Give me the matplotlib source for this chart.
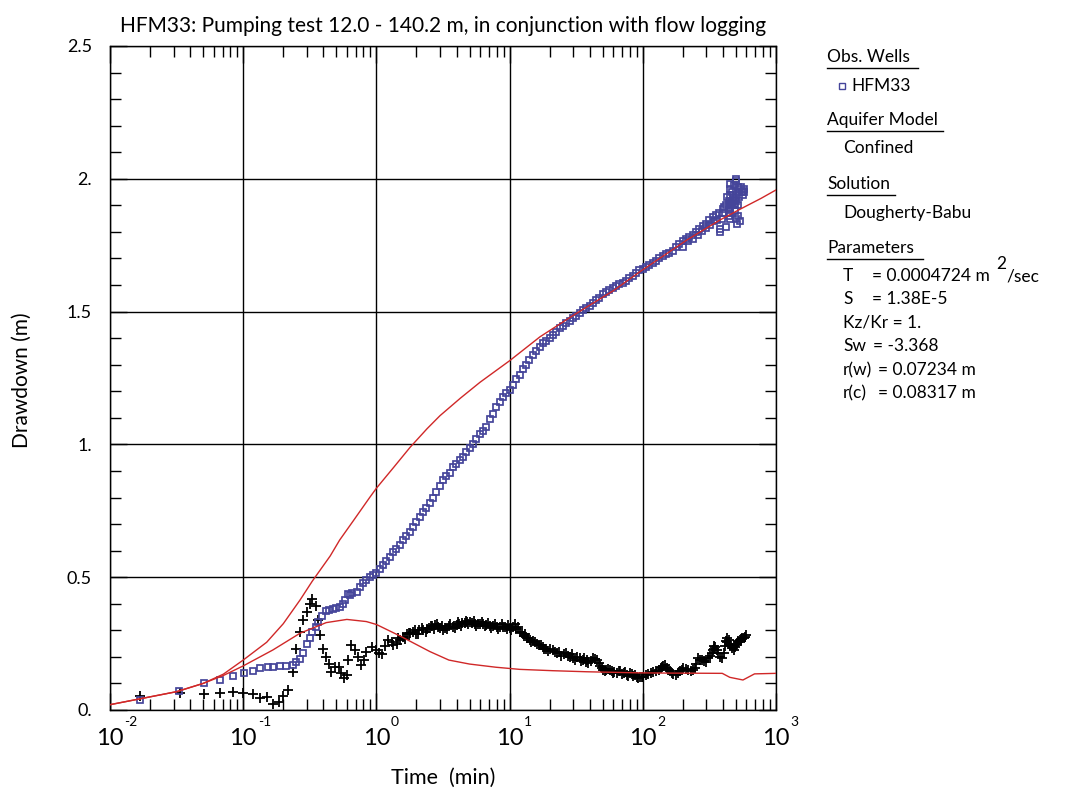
import matplotlib
matplotlib.use('Agg')
import matplotlib.pyplot as plt
from matplotlib.ticker import LogLocator, MultipleLocator, FixedLocator, NullFormatter
from matplotlib.lines import Line2D
import numpy as np

plt.rcParams['font.family'] = ['Lato', 'DejaVu Sans']

# ---------------- data ----------------
# Observed drawdown, HFM33 (time in min, drawdown in m)
well_t = [0.0168, 0.033, 0.051, 0.067, 0.084, 0.101, 0.118, 0.134, 0.153, 0.167,
          0.189, 0.21, 0.236, 0.25, 0.267, 0.28, 0.30, 0.318, 0.33, 0.35,
          0.366, 0.39, 0.42, 0.44, 0.47, 0.50, 0.53, 0.56, 0.58, 0.61,
          0.63, 0.66, 0.71, 0.75, 0.79, 0.84, 0.89, 0.94, 1.0, 1.06,
          1.12, 1.19, 1.26, 1.33, 1.41, 1.5, 1.59, 1.68, 1.78, 1.89,
          2.0, 2.12, 2.24, 2.37, 2.51, 2.66, 2.82, 2.99, 3.16, 3.35,
          3.55, 3.76, 3.98, 4.22, 4.47, 4.73, 5.01, 5.31, 5.62, 5.96,
          6.31, 6.68, 7.08, 7.5, 7.94, 8.41, 8.91, 9.44, 10.0, 10.6,
          11.2, 11.9, 12.6, 13.3, 14.1, 15.0, 15.8, 16.8, 17.8, 18.8,
          20.0, 21.1, 22.4, 23.7, 25.1, 26.6, 28.2, 29.9, 31.6, 33.5,
          35.5, 37.6, 39.8, 42.2, 44.7, 47.3, 50.1, 53.1, 56.2, 59.6,
          63.1, 66.8, 70.8, 75.0, 79.4, 84.1, 89.1, 94.4, 100, 106,
          112, 119, 126, 133, 141, 150, 158, 168, 178, 188,
          200, 211, 224, 237, 251, 266, 282, 299, 316, 335,
          355, 376, 398, 422, 447, 473, 501, 531, 562, 580,
          200, 220, 240, 260, 280, 300, 320, 340, 360, 380,
          390, 400, 410, 420, 430, 440, 450, 450, 450, 450,
          450, 450, 455, 460, 470, 480, 490, 500, 500, 500,
          510, 520, 520, 530, 540, 550, 560, 570, 580, 380,
          490, 495, 505, 515, 525, 445, 455, 465, 475, 485]
well_s = [0.038, 0.073, 0.100, 0.113, 0.128, 0.140, 0.148, 0.159, 0.163, 0.163,
          0.167, 0.167, 0.170, 0.182, 0.192, 0.214, 0.247, 0.270, 0.294, 0.314,
          0.333, 0.354, 0.374, 0.378, 0.380, 0.384, 0.389, 0.400, 0.414, 0.435,
          0.433, 0.440, 0.445, 0.462, 0.477, 0.490, 0.500, 0.508, 0.515, 0.530,
          0.545, 0.560, 0.577, 0.595, 0.608, 0.622, 0.640, 0.655, 0.672, 0.690,
          0.708, 0.728, 0.745, 0.762, 0.780, 0.797, 0.820, 0.845, 0.866, 0.882,
          0.893, 0.915, 0.928, 0.940, 0.954, 0.970, 0.985, 1.000, 1.020, 1.038,
          1.052, 1.067, 1.095, 1.115, 1.140, 1.160, 1.178, 1.192, 1.205, 1.225,
          1.245, 1.262, 1.283, 1.300, 1.318, 1.335, 1.350, 1.366, 1.380, 1.390,
          1.400, 1.412, 1.425, 1.437, 1.447, 1.456, 1.466, 1.475, 1.484, 1.495,
          1.506, 1.514, 1.522, 1.532, 1.542, 1.553, 1.565, 1.575, 1.583, 1.590,
          1.597, 1.603, 1.608, 1.617, 1.625, 1.635, 1.645, 1.655, 1.662, 1.668,
          1.675, 1.683, 1.692, 1.700, 1.708, 1.715, 1.722, 1.730, 1.742, 1.755,
          1.765, 1.775, 1.780, 1.790, 1.800, 1.812, 1.822, 1.830, 1.843, 1.855,
          1.862, 1.870, 1.885, 1.900, 1.915, 1.930, 1.940, 1.950, 1.955, 1.960,
          1.745, 1.765, 1.775, 1.790, 1.805, 1.815, 1.825, 1.840, 1.845, 1.800,
          1.850, 1.870, 1.895, 1.820, 1.930, 1.860, 1.850, 1.870, 1.890, 1.910,
          1.940, 1.960, 1.980, 1.900, 1.950, 1.975, 1.880, 1.990, 2.000, 1.850,
          1.830, 1.860, 1.970, 1.960, 1.840, 1.970, 1.950, 1.940, 1.950, 1.810,
          1.905, 1.925, 1.915, 1.900, 1.930, 1.885, 1.900, 1.910, 1.920, 1.905]

# Observed derivative (black crosses)
deriv_t = [0.0168, 0.0335, 0.051, 0.067, 0.084, 0.10, 0.118, 0.134, 0.15, 0.166,
           0.186, 0.20, 0.218, 0.235, 0.25, 0.267, 0.28, 0.30, 0.32, 0.33,
           0.35, 0.366, 0.38, 0.40, 0.42, 0.44, 0.46, 0.49, 0.52, 0.54,
           0.57, 0.60, 0.61, 0.65, 0.69, 0.73, 0.76, 0.81, 0.84, 0.92,
           1.0, 1.05, 1.11, 1.17, 1.23, 1.33, 1.42, 1.5, 1.59, 1.7,
           1.8, 1.89, 2.0, 2.1, 2.25, 2.4, 2.5, 2.62, 2.75, 2.9,
           3.0, 3.17, 3.3, 3.5, 3.78, 4.0, 4.2, 4.4, 4.6, 4.8,
           5.0, 5.25, 5.5, 5.75, 6.0, 6.35, 6.7, 7.1, 7.5, 8.0,
           8.45, 8.9, 9.5, 10.0, 10.6, 11.2, 11.9, 12.8, 13.5, 14.2,
           15.0, 15.5, 16.5, 17.9, 18.7, 19.5, 21.0, 22.6, 24.5, 26.5,
           28.4, 30.0, 31.0, 33.5, 35.8, 37.5, 39.0, 42.0, 45.0, 48.0,
           50.6, 53.0, 55.0, 58.6, 61.0, 63.7, 68.0, 72.0, 76.0, 80.0,
           85.0, 90.0, 95.0, 101, 110, 120, 132, 140, 147, 155,
           165, 176, 190, 202, 220, 238, 250, 260, 280, 300,
           320, 335, 350, 370, 395, 415, 430, 455, 480, 500,
           520, 535, 560, 580, 600, 345, 425, 440, 510, 545,
           1.3, 1.45, 1.65, 1.75, 1.95, 2.05, 2.2, 2.35, 2.55, 2.7,
           2.85, 3.1, 3.4, 3.6, 3.9, 4.1, 4.3, 4.7, 4.9, 5.4,
           5.6, 6.2, 6.5, 6.9, 7.3, 7.8, 8.2, 8.7, 9.2, 9.8,
           10.3, 10.9, 11.5, 12.3, 13.0, 13.8, 14.6, 16.0, 17.2, 18.2,
           20.2, 21.8, 23.5, 25.5, 27.5, 29.2, 32.0, 34.5, 36.5, 38.0,
           40.5, 43.5, 46.5, 49.0, 52.0, 57.0, 60.0, 66.0, 70.0, 74.0,
           78.0, 83.0, 88.0, 92.0, 98.0, 105, 115, 125, 136, 143,
           151, 160, 170, 183, 196, 211, 229, 245, 270, 290,
           310, 328, 340, 360, 382, 405, 420, 445, 470, 490,
           515, 550, 590]
deriv_s = [0.053, 0.063, 0.059, 0.063, 0.067, 0.065, 0.059, 0.044, 0.050, 0.021,
           0.031, 0.053, 0.075, 0.142, 0.228, 0.295, 0.339, 0.370, 0.400, 0.417,
           0.390, 0.339, 0.282, 0.228, 0.198, 0.173, 0.144, 0.163, 0.163, 0.138,
           0.119, 0.130, 0.188, 0.245, 0.226, 0.200, 0.169, 0.190, 0.220, 0.238,
           0.226, 0.215, 0.210, 0.240, 0.264, 0.245, 0.250, 0.262, 0.276, 0.285,
           0.290, 0.295, 0.288, 0.300, 0.300, 0.305, 0.310, 0.315, 0.320, 0.312,
           0.308, 0.303, 0.310, 0.315, 0.314, 0.320, 0.325, 0.327, 0.328, 0.330,
           0.333, 0.328, 0.325, 0.322, 0.322, 0.322, 0.320, 0.318, 0.318, 0.312,
           0.313, 0.314, 0.305, 0.308, 0.314, 0.305, 0.295, 0.280, 0.272, 0.264,
           0.258, 0.255, 0.245, 0.238, 0.230, 0.222, 0.225, 0.213, 0.205, 0.215,
           0.200, 0.195, 0.190, 0.195, 0.188, 0.182, 0.178, 0.195, 0.188, 0.165,
           0.150, 0.152, 0.155, 0.148, 0.142, 0.138, 0.147, 0.138, 0.130, 0.138,
           0.128, 0.125, 0.126, 0.126, 0.135, 0.144, 0.152, 0.162, 0.169, 0.150,
           0.140, 0.132, 0.145, 0.157, 0.150, 0.150, 0.175, 0.195, 0.190, 0.182,
           0.205, 0.225, 0.238, 0.215, 0.195, 0.240, 0.270, 0.245, 0.226, 0.245,
           0.255, 0.264, 0.270, 0.272, 0.283, 0.230, 0.255, 0.262, 0.250, 0.258,
           0.255, 0.270, 0.268, 0.290, 0.300, 0.285, 0.310, 0.295, 0.318, 0.305,
           0.322, 0.315, 0.305, 0.322, 0.310, 0.330, 0.318, 0.335, 0.322, 0.335,
           0.318, 0.330, 0.315, 0.328, 0.310, 0.322, 0.305, 0.322, 0.312, 0.320,
           0.300, 0.322, 0.312, 0.290, 0.285, 0.270, 0.255, 0.250, 0.245, 0.228,
           0.228, 0.218, 0.218, 0.210, 0.205, 0.210, 0.198, 0.186, 0.195, 0.190,
           0.185, 0.192, 0.178, 0.158, 0.148, 0.150, 0.140, 0.145, 0.135, 0.142,
           0.128, 0.135, 0.130, 0.120, 0.125, 0.130, 0.140, 0.148, 0.158, 0.165,
           0.160, 0.145, 0.135, 0.138, 0.152, 0.155, 0.148, 0.160, 0.190, 0.185,
           0.195, 0.215, 0.240, 0.225, 0.200, 0.215, 0.260, 0.250, 0.235, 0.238,
           0.260, 0.268, 0.275]

# Dougherty-Babu model drawdown (red)
model_t = [0.01, 0.0316, 0.05, 0.071, 0.1, 0.15, 0.2, 0.267, 0.33, 0.45,
           0.53, 0.67, 0.89, 1.0, 1.34, 1.79, 2.4, 3.0, 4.27, 6.0,
           10.0, 16.9, 28.4, 40.2, 59.8, 95.0, 215, 380, 535, 770,
           1000]
model_s = [0.020, 0.069, 0.100, 0.135, 0.188, 0.255, 0.325, 0.414, 0.485, 0.580,
           0.640, 0.712, 0.800, 0.835, 0.912, 0.989, 1.059, 1.108, 1.174, 1.234,
           1.315, 1.405, 1.478, 1.525, 1.578, 1.650, 1.770, 1.845, 1.885, 1.926,
           1.958]

# Model derivative (red)
mderiv_t = [0.01, 0.0316, 0.05, 0.071, 0.1, 0.167, 0.267, 0.42, 0.6, 0.84,
            1.0, 1.5, 2.52, 3.5, 5.0, 7.9, 11.9, 21.0, 37.8, 90.0,
            150, 395, 450, 565, 690, 1000]
mderiv_s = [0.020, 0.069, 0.100, 0.130, 0.166, 0.226, 0.289, 0.329, 0.341, 0.333,
            0.322, 0.279, 0.220, 0.188, 0.173, 0.161, 0.153, 0.148, 0.144, 0.140,
            0.139, 0.138, 0.123, 0.113, 0.136, 0.138]

x_decades = [1e-2, 1e-1, 1e0, 1e1, 1e2, 1e3]
x_exponents = ['-2', '-1', '0', '1', '2', '3']
y_ticks = [0.0, 0.5, 1.0, 1.5, 2.0, 2.5]
y_labels = ['0.', '0.5', '1.', '1.5', '2.', '2.5']

title = 'HFM33: Pumping test 12.0 - 140.2 m, in conjunction with flow logging'

# ---------------- figure ----------------
W, H = 1068, 794
fig = plt.figure(figsize=(W / 100, H / 100), dpi=100)
ax = fig.add_axes([110 / W, 1 - 710 / H, 666 / W, 664 / H])
ax.set_xscale('log')
ax.set_xlim(1e-2, 1e3)
ax.set_ylim(0, 2.5)

blue = '#45459a'
red = '#d02828'

ax.plot(deriv_t, deriv_s, linestyle='none', marker='+', color='black',
        markersize=6.5, markeredgewidth=1.3, zorder=3, clip_on=False)
ax.plot(well_t, well_s, linestyle='none', marker='s', markerfacecolor='none',
        markeredgecolor=blue, markersize=4.8, markeredgewidth=1.25, zorder=4)
ax.plot(model_t, model_s, color=red, lw=1.0, zorder=5)
ax.plot(mderiv_t, mderiv_s, color=red, lw=1.0, zorder=5)

# ticks
ax.xaxis.set_major_locator(FixedLocator(x_decades))
ax.xaxis.set_minor_locator(LogLocator(base=10, subs=np.arange(2, 10)))
ax.xaxis.set_minor_formatter(NullFormatter())
ax.tick_params(axis='x', which='both', labelbottom=False)
ax.set_yticks(y_ticks)
ax.set_yticklabels(y_labels)
ax.yaxis.set_minor_locator(MultipleLocator(0.1))
ax.tick_params(which='both', direction='in', top=True, right=True, width=1, color='black')
ax.tick_params(which='major', length=12)
ax.tick_params(which='minor', length=8)
ax.tick_params(axis='y', which='major', labelsize=13, pad=13)

ax.grid(which='major', color='black', lw=1.0)
for sp in ax.spines.values():
    sp.set_linewidth(1.0)
    sp.set_color('black')

for t, e in zip(x_decades, x_exponents):
    ax.annotate('10', xy=(t, 0), xycoords=('data', 'axes fraction'),
                xytext=(0, -20.5), textcoords='offset points',
                ha='center', va='center', fontsize=17, annotation_clip=False)
    ax.annotate(e, xy=(t, 0), xycoords=('data', 'axes fraction'),
                xytext=(10.5, -8.8), textcoords='offset points',
                ha='left', va='center', fontsize=10, annotation_clip=False)

ax.set_title(title, fontsize=15, pad=10)
fig.text(443 / W, 1 - 778 / H, 'Time  (min)', ha='center', va='center', fontsize=15.5)
fig.text(22 / W, 1 - 380 / H, 'Drawdown (m)', ha='center', va='center',
         rotation=90, fontsize=15)

# ---------------- right-hand legend / info panel ----------------
def px(x, y):
    return x / W, 1 - y / H

fs = 12.5
headers = [('Obs. Wells', 57, 918), ('Aquifer Model', 120, 943),
           ('Solution', 184, 895), ('Parameters', 248, 923)]
for txt, yy, x_end in headers:
    fig.text(*px(827, yy), txt, ha='left', va='center', fontsize=fs)
    fig.add_artist(Line2D([827 / W, x_end / W], [1 - (yy + 11) / H] * 2,
                          color='black', lw=1.0, transform=fig.transFigure))

fig.add_artist(Line2D([842 / W], [1 - 86 / H], marker='s', markersize=4,
                      markerfacecolor='none', markeredgecolor=blue,
                      markeredgewidth=1.0, transform=fig.transFigure))
fig.text(*px(851, 86), 'HFM33', ha='left', va='center', fontsize=fs)
fig.text(*px(843, 148), 'Confined', ha='left', va='center', fontsize=fs)
fig.text(*px(843, 213), 'Dougherty-Babu', ha='left', va='center', fontsize=fs)

params = [('T', '= 0.0004724 m', 276, 872), ('S', '= 1.38E-5', 299, 872),
          ('Sw', '= -3.368', 346, 873), ('r(w)', '= 0.07234 m', 370, 878),
          ('r(c)', '= 0.08317 m', 393, 878)]
for name, val, yy, xv in params:
    fig.text(*px(843, yy), name, ha='left', va='center', fontsize=fs)
    fig.text(*px(xv, yy), val, ha='left', va='center', fontsize=fs)
fig.text(*px(843, 323), 'Kz/Kr = 1.', ha='left', va='center', fontsize=fs)
fig.text(*px(996, 264), '2', ha='left', va='center', fontsize=fs)
fig.text(*px(1006, 276), '/sec', ha='left', va='center', fontsize=fs)

fig.savefig('out.png', dpi=100)
